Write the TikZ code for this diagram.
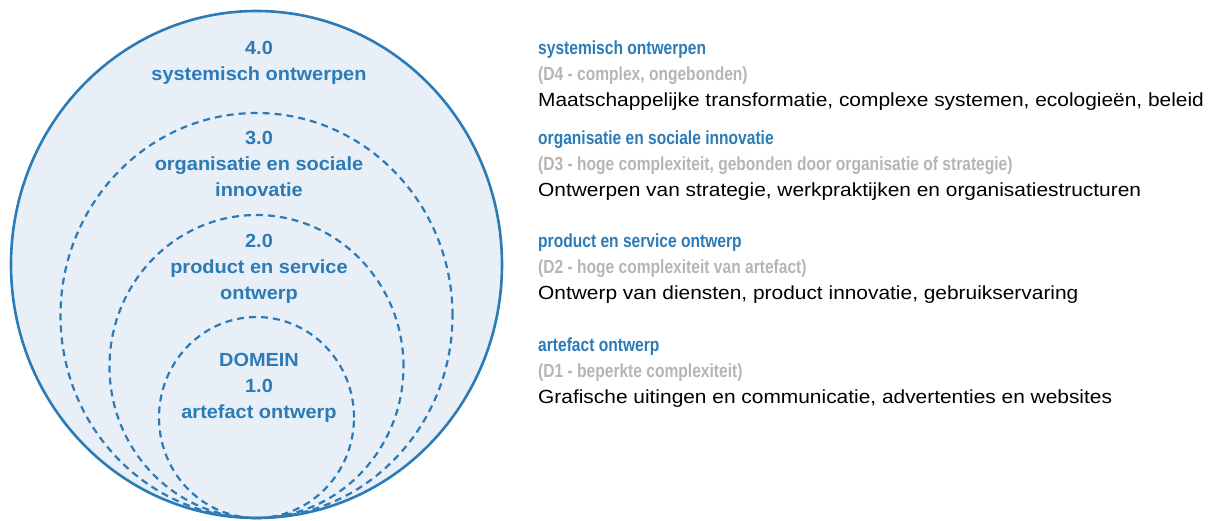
\documentclass[tikz,border=0pt]{standalone}
\usepackage{fontspec}
\setmainfont{Liberation Sans}
\newfontfamily\ringfont[FakeStretch=1.05]{Liberation Sans}
\newfontfamily\headfont[FakeStretch=0.82]{Liberation Sans}
\newfontfamily\bodyfont[FakeStretch=1.10]{Liberation Sans}
\definecolor{domainblue}{HTML}{2C7BB6}
\definecolor{domainfill}{HTML}{E8EFF7}
\definecolor{domaingrey}{HTML}{B5B5B5}
\newcommand\lvltitle[1]{\textcolor{domainblue}{\headfont\bfseries #1}}
\newcommand\lvlnote[1]{\textcolor{domaingrey}{\headfont\bfseries #1}}
\tikzset{
    ring/.style={draw=domainblue,line width=2.2pt,dash pattern=on 7pt off 5pt},
    ringlabel/.style={align=center,anchor=north,inner sep=0pt,text=domainblue,font=\fontsize{19pt}{26pt}\ringfont\bfseries},
    desc/.style={align=left,anchor=north west,inner sep=0pt,font=\fontsize{19pt}{26pt}\bodyfont},
}
\begin{document}
\begin{tikzpicture}[x=1pt,y=-1pt]
        \useasboundingbox (0,0) rectangle (1213,520);
        \coordinate (bottom) at (256.5,518);
        \fill[domainfill] ([yshift=253.5pt]bottom) ellipse [x radius=245.5pt,y radius=253.5pt];
        \draw[ring] ([yshift=202.5pt]bottom) ellipse [x radius=196pt,y radius=202.5pt];
        \draw[ring] ([yshift=151.5pt]bottom) ellipse [x radius=147pt,y radius=151.5pt];
        \draw[ring] ([yshift=100.5pt]bottom) ellipse [x radius=97.5pt,y radius=100.5pt];
        \draw[domainblue,line width=2.6pt] ([yshift=253.5pt]bottom) ellipse [x radius=245.5pt,y radius=253.5pt];

        \node[ringlabel] (ringfour) at (259,41) {4.0\\systemisch ontwerpen};
        \node[ringlabel] (ringthree) at (259,131) {3.0\\organisatie en sociale\\innovatie};
        \node[ringlabel] (ringtwo) at (259,234) {2.0\\product en service\\ontwerp};
        \node[ringlabel] (ringone) at (259,353) {DOMEIN\\1.0\\artefact ontwerp};

        \node[desc] (descfour) at (538,41) {\lvltitle{systemisch ontwerpen}\\\lvlnote{(D4 - complex, ongebonden)}\\Maatschappelijke transformatie, complexe systemen, ecologieën, beleid};
        \node[desc] (descthree) at (538,131) {\lvltitle{organisatie en sociale innovatie}\\\lvlnote{(D3 - hoge complexiteit, gebonden door organisatie of strategie)}\\Ontwerpen van strategie, werkpraktijken en organisatiestructuren};
        \node[desc] (desctwo) at (538,234) {\lvltitle{product en service ontwerp}\\\lvlnote{(D2 - hoge complexiteit van artefact)}\\Ontwerp van diensten, product innovatie, gebruikservaring};
        \node[desc] (descone) at (538,338) {\lvltitle{artefact ontwerp}\\\lvlnote{(D1 - beperkte complexiteit)}\\Grafische uitingen en communicatie, advertenties en websites};
    \end{tikzpicture}
\end{document}
